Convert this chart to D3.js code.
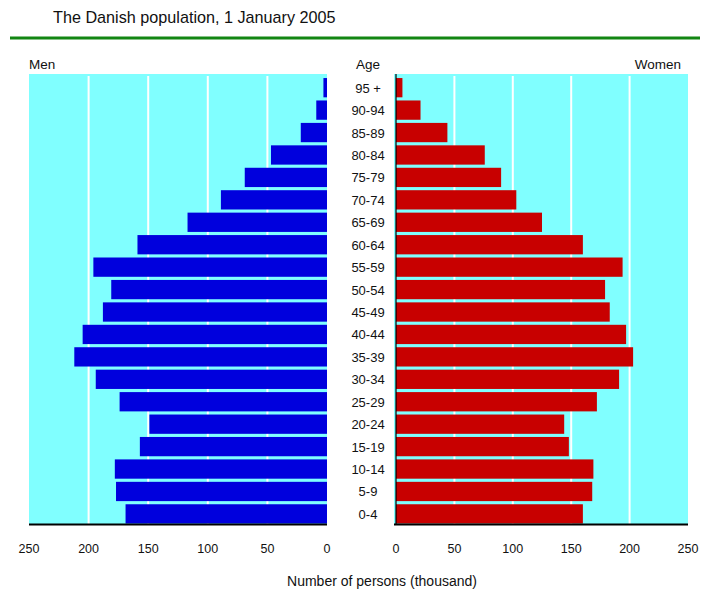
<!DOCTYPE html>
<html>
<head>
<meta charset="utf-8">
<script src="https://cdn.jsdelivr.net/npm/d3@7"></script>
<style>
  body { margin: 0; background: #fff; }
  text { font-family: "Liberation Sans", Arial, sans-serif; fill: #111; }
</style>
</head>
<body>
<svg id="chart" width="710" height="595"></svg>
<script>
const ageGroups = ["95 +", "90-94", "85-89", "80-84", "75-79", "70-74", "65-69", "60-64",
  "55-59", "50-54", "45-49", "40-44", "35-39", "30-34", "25-29", "20-24",
  "15-19", "10-14", "5-9", "0-4"];
// thousand persons
const men = [3, 9, 22, 47, 69, 89, 117, 159, 196, 181, 188, 205, 212, 194, 174, 149, 157, 178, 177, 169];
const women = [5.5, 21, 44, 76, 90, 103, 125, 160, 194, 179, 183, 197, 203, 191, 172, 144, 148, 169, 168, 160];
const ticks = [0, 50, 100, 150, 200, 250];

const svg = d3.select("#chart");
const plotTop = 74, plotBottom = 524;

const xMen = d3.scaleLinear().domain([0, 250]).range([327, 29]);
const xWomen = d3.scaleLinear().domain([0, 250]).range([396, 688]);
const y = d3.scaleBand()
  .domain(ageGroups)
  .range([plotTop, plotBottom])
  .paddingInner(0.14)
  .paddingOuter(0.1)
  .align(0.9);

// title + green rule
svg.append("text")
  .attr("x", 53).attr("y", 23)
  .style("font-size", "16.2px")
  .text("The Danish population, 1 January 2005");
svg.append("rect")
  .attr("x", 10).attr("y", 36.5).attr("width", 690).attr("height", 3)
  .attr("fill", "#138613");

function drawSide(x, values, color, x0, x1) {
  const g = svg.append("g");
  g.append("rect")
    .attr("x", x0).attr("y", plotTop)
    .attr("width", x1 - x0).attr("height", plotBottom - plotTop)
    .attr("fill", "#80ffff");
  g.selectAll(".grid")
    .data(ticks.filter(d => d > 0 && d < 250))
    .join("line")
    .attr("x1", d => x(d)).attr("x2", d => x(d))
    .attr("y1", plotTop + 2).attr("y2", plotBottom)
    .attr("stroke", "#fff").attr("stroke-width", 2);
  g.selectAll(".bar")
    .data(values)
    .join("rect")
    .attr("x", d => Math.min(x(0), x(d)))
    .attr("y", (d, i) => y(ageGroups[i]))
    .attr("width", d => Math.abs(x(d) - x(0)))
    .attr("height", y.bandwidth())
    .attr("fill", color);
  // bottom axis line
  g.append("line")
    .attr("x1", x0).attr("x2", x1)
    .attr("y1", plotBottom + 0.5).attr("y2", plotBottom + 0.5)
    .attr("stroke", "#000").attr("stroke-width", 2);
  g.selectAll(".tick")
    .data(ticks)
    .join("text")
    .attr("x", d => x(d)).attr("y", 553)
    .attr("text-anchor", "middle")
    .style("font-size", "12.5px")
    .text(d => d);
  return g;
}

drawSide(xMen, men, "#0000dd", 29, 327);
drawSide(xWomen, women, "#c80000", 394, 688);

// vertical zero line on the women side
svg.append("line")
  .attr("x1", xWomen(0)).attr("x2", xWomen(0))
  .attr("y1", plotTop).attr("y2", plotBottom)
  .attr("stroke", "#000").attr("stroke-width", 1.2);

// age labels
svg.selectAll(".age")
  .data(ageGroups)
  .join("text")
  .attr("x", 368)
  .attr("y", d => y(d) + y.bandwidth() / 2 + 5)
  .attr("text-anchor", "middle")
  .style("font-size", "13px")
  .text(d => d);

svg.append("text").attr("x", 29).attr("y", 69).style("font-size", "13.5px").text("Men");
svg.append("text").attr("x", 368).attr("y", 69).attr("text-anchor", "middle").style("font-size", "13.5px").text("Age");
svg.append("text").attr("x", 681).attr("y", 69).attr("text-anchor", "end").style("font-size", "13.5px").text("Women");

svg.append("text")
  .attr("x", 382).attr("y", 586)
  .attr("text-anchor", "middle")
  .style("font-size", "14px")
  .text("Number of persons (thousand)");
</script>
</body>
</html>
